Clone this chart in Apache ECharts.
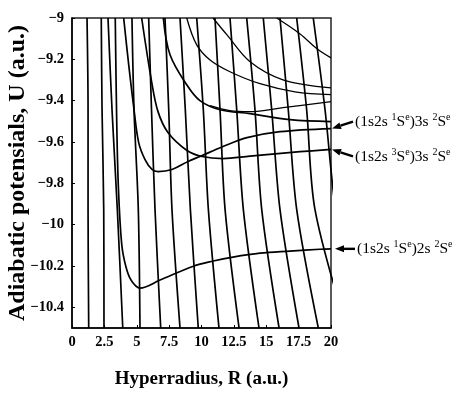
<!DOCTYPE html>
<html>
<head>
<meta charset="utf-8">
<script src="https://cdn.jsdelivr.net/npm/echarts@6/dist/echarts.min.js"></script>
<style>
    html, body { margin: 0; padding: 0; background: #fff; }
    #chart { width: 461px; height: 393px; }
</style>
</head>
<body>
<div id="chart"></div>
<script>
// ticks
const xTicks = [0, 2.5, 5, 7.5, 10, 12.5, 15, 17.5, 20]
const yTicks = [-9, -9.2, -9.4, -9.6, -9.8, -10, -10.2, -10.4]

// steep curves: x read at these U levels
const steepLevels = [-9, -9.444, -9.926, -10.5]
const steepLines = [
    [1.16, 1.24, 1.24, 1.29],
    [2.26, 2.32, 2.45, 2.47],
    [2.78, 3.09, 3.50, 3.92],
    [4.63, 4.79, 5.12, 5.25],
    [5.92, 6.14, 6.41, 6.85],
    [7.18, 7.47, 7.72, 8.34],
    [8.34, 8.75, 9.14, 9.75],
    [9.63, 10.14, 10.53, 11.35],
    [11.04, 11.43, 11.82, 12.90],
    [12.20, 12.72, 13.23, 14.44],
    [13.49, 14.13, 14.65, 15.99],
    [14.77, 15.42, 16.06, 17.53],
    [16.06, 16.70, 17.35, 19.02],
    [17.35, 18.12, 18.76, 21.2],
    [18.63, 19.54, 20.35, 22.0],
]

// channel curves [R, U]
const curve2s = [[3.34, -9.0], [3.45, -9.49], [3.58, -9.815], [3.84, -10.095], [4.17, -10.205], [4.56, -10.268], [5.25, -10.307], [6.80, -10.268], [9.37, -10.201], [10.91, -10.176], [12.43, -10.157], [14.52, -10.138], [16.83, -10.128], [19.15, -10.119], [20, -10.117]]
const curve1S3s = [[3.99, -9.0], [4.38, -9.227], [4.79, -9.444], [5.15, -9.603], [5.64, -9.685], [6.18, -9.733], [6.64, -9.743], [7.72, -9.733], [8.96, -9.694], [9.88, -9.670], [11.66, -9.622], [13.51, -9.579], [16.06, -9.550], [20, -9.535]]
const curve3S3s = [[5.38, -9.0], [6.15, -9.309], [6.64, -9.453], [7.41, -9.554], [8.88, -9.641], [10.04, -9.670], [11.66, -9.680], [13.75, -9.668], [17.61, -9.647], [20, -9.636]]
const curveG = [[7.05, -9.0], [7.57, -9.178], [8.86, -9.323], [9.88, -9.400], [11.43, -9.444], [13.75, -9.463], [16.83, -9.492], [20, -9.501]]
const curveK = [[10.66, -9.424], [12.20, -9.448], [13.75, -9.453], [16.29, -9.434], [20, -9.405]]
const curveD = [[8.86, -9.0], [9.63, -9.130], [10.66, -9.203], [12.20, -9.260], [14.52, -9.318], [17.22, -9.357], [20, -9.371]]
const curveE = [[10.89, -9.0], [11.97, -9.082], [13.75, -9.212], [16.29, -9.299], [20, -9.338]]
const curveF = [[15.81, -9.0], [17.61, -9.077], [18.92, -9.149], [20, -9.193]]

// right-hand labels
const stateLabels = [
    ['(1s2s ', '1', 'S', 'e', ')3s ', '2', 'S', 'e'],
    ['(1s2s ', '3', 'S', 'e', ')3s ', '2', 'S', 'e'],
    ['(1s2s ', '1', 'S', 'e', ')2s ', '2', 'S', 'e'],
]
const stateU = [-9.535, -9.636, -10.117]

const chart = echarts.init(document.getElementById('chart'))
const serif = '"Liberation Serif", "DejaVu Serif", serif'

const series = []
steepLines.forEach((xs) => {
    series.push({
        type: 'line', data: xs.map((x, i) => [x, steepLevels[i]]),
        smooth: 0.3, symbol: 'none', silent: true,
        lineStyle: { color: '#000', width: 1.7 },
    })
})
;[curve2s, curve1S3s, curve3S3s, curveG, curveK, curveD, curveE, curveF].forEach((c, i) => {
    series.push({
        type: 'line', data: c, smooth: 0.35, symbol: 'none', silent: true,
        lineStyle: { color: '#000', width: i > 3 ? 1.3 : 1.7 },
    })
})

chart.setOption({
    animation: false,
    backgroundColor: '#fff',
    grid: {
        left: 72, top: 18, right: 130, bottom: 65, outerBoundsMode: 'none',
        show: true, borderColor: '#222', borderWidth: 1.5,
    },
    xAxis: {
        type: 'value', min: 0, max: 20, interval: 2.5,
        name: 'Hyperradius, R (a.u.)', nameLocation: 'middle', nameGap: 42, nameMoveOverlap: false,
        nameTextStyle: { fontFamily: serif, fontWeight: 'bold', fontSize: 19, color: '#000' },
        axisLine: { lineStyle: { color: '#000', width: 1.5 } },
        axisTick: { inside: true, length: 3, lineStyle: { color: '#000' } },
        axisLabel: { fontFamily: serif, fontWeight: 'bold', fontSize: 14.5, color: '#000', margin: 7, formatter: (v) => String(v) },
        splitLine: { show: false },
    },
    yAxis: {
        type: 'value', min: -10.5, max: -9,
        name: 'Adiabatic potensials, U (a.u.)', nameLocation: 'middle', nameGap: 42, nameMoveOverlap: false,
        nameTextStyle: { fontFamily: serif, fontWeight: 'bold', fontSize: 24, color: '#000' },
        axisLine: { lineStyle: { color: '#000', width: 1.5 } },
        axisTick: { inside: true, length: 3, customValues: yTicks, lineStyle: { color: '#000' } },
        axisLabel: {
            fontFamily: serif, fontWeight: 'bold', fontSize: 14.5, color: '#000', margin: 8,
            customValues: yTicks,
            formatter: (v) => String(Math.round(v * 10) / 10).replace('-', '\u2212'),
        },
        splitLine: { show: false },
    },
    series: series,
})

// arrows and labels beside the right axis
function arrow(tip, tail) {
    const dx = tail[0] - tip[0], dy = tail[1] - tip[1]
    const len = Math.sqrt(dx * dx + dy * dy)
    const ux = dx / len, uy = dy / len
    const hl = 9, hw = 3.5
    const bx = tip[0] + ux * hl, by = tip[1] + uy * hl
    return [
        { type: 'line', shape: { x1: bx, y1: by, x2: tail[0], y2: tail[1] }, style: { stroke: '#000', lineWidth: 2.4 } },
        { type: 'polygon', shape: { points: [tip, [bx - uy * hw, by + ux * hw], [bx + uy * hw, by - ux * hw]] }, style: { fill: '#000' } },
    ]
}
const graphics = []
const tipOffset = [[1, 0, 22, -7], [1, 0, 22, 7], [4, 0, 24, 0]]
stateLabels.forEach((parts, i) => {
    const p = chart.convertToPixel({ gridIndex: 0 }, [20, stateU[i]])
    const o = tipOffset[i]
    const tip = [p[0] + o[0], p[1]]
    const tail = [p[0] + o[2], p[1] + o[3]]
    graphics.push(...arrow(tip, tail))
    const txt = parts.map((s, k) => (k % 4 === 1 || k % 4 === 3 ? '{s|' + s + '}' : '{n|' + s + '}')).join('')
    graphics.push({
        type: 'text', x: tail[0] + 2, y: tail[1],
        style: {
            text: txt, align: 'left', verticalAlign: 'middle', fill: '#000',
            rich: {
                n: { fontFamily: serif, fontSize: 15.5, fill: '#000' },
                s: { fontFamily: serif, fontSize: 10, fill: '#000', padding: [0, 0, 8, 0] },
            },
        },
    })
})
chart.setOption({ graphic: graphics })
</script>
</body>
</html>
